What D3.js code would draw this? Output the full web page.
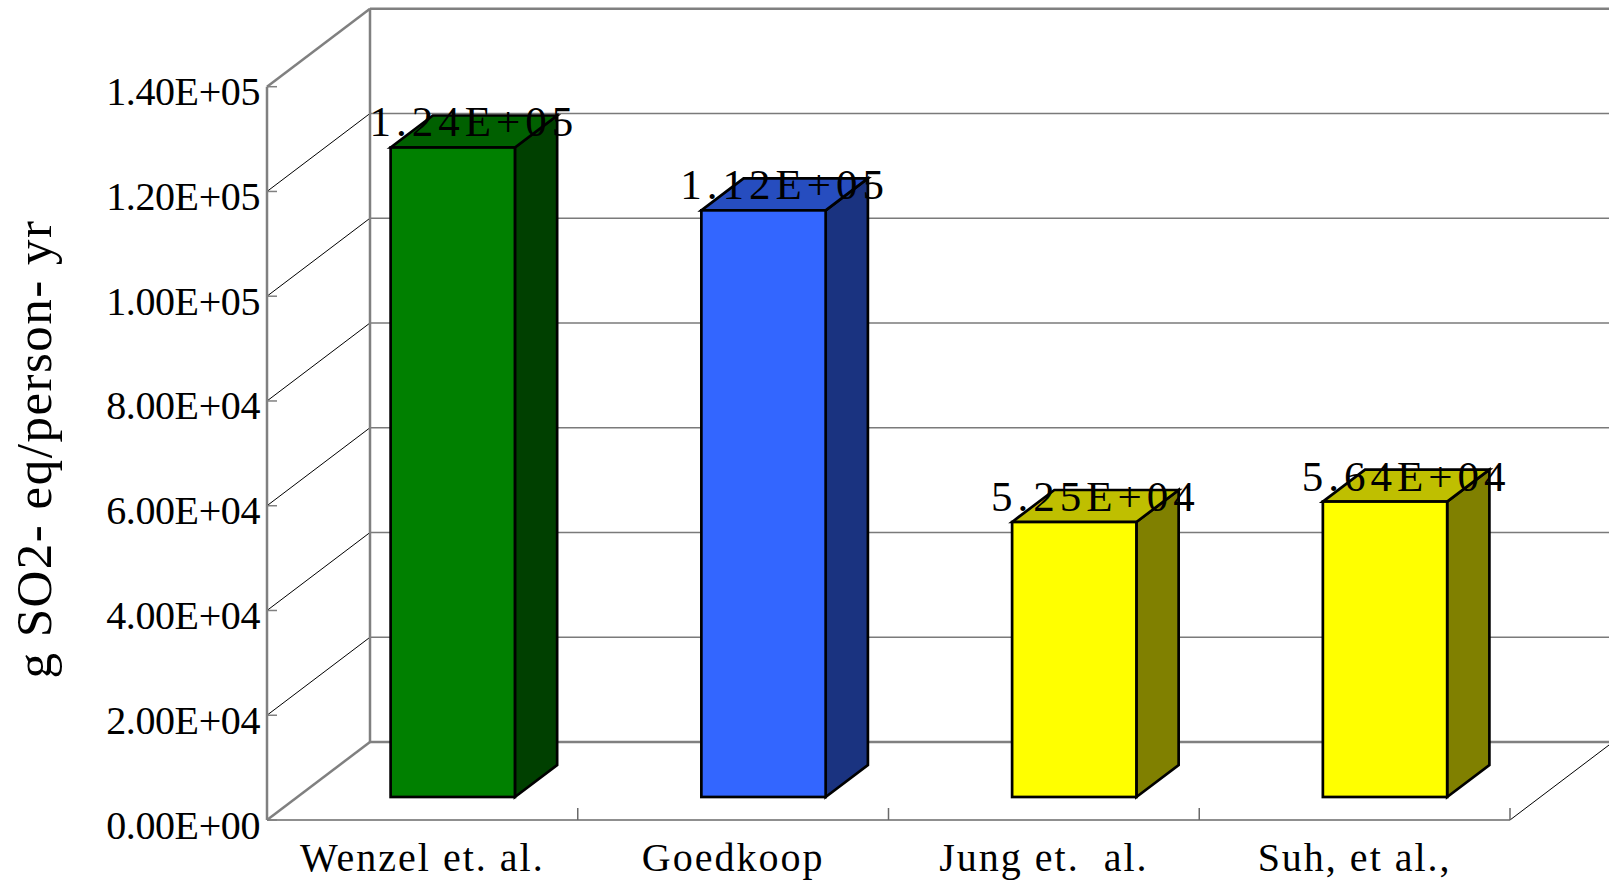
<!DOCTYPE html>
<html>
<head>
<meta charset="utf-8">
<script src="https://cdn.jsdelivr.net/npm/d3@7"></script>
<style>
  html, body { margin: 0; padding: 0; background: #ffffff; }
  svg { display: block; }
  text { font-family: "Liberation Serif", "Times New Roman", serif; fill: #000; }
</style>
</head>
<body>
<svg id="chart" width="1609" height="884"></svg>
<script>
// Study categories and acidification results (g SO2-eq / person-yr)
const categories = ["Wenzel et. al.", "Goedkoop", "Jung et.  al.", "Suh, et al.,"];
const values = [124000, 112000, 52500, 56400];
const barColors = ["#008000", "#3366FF", "#FFFF00", "#FFFF00"];
const yTicks = [0, 20000, 40000, 60000, 80000, 100000, 120000, 140000];
const yTitle = "g SO2- eq/person- yr";

(function draw() {
  const svg = d3.select("#chart");

  // Front plane of the plot box and the depth offset of the back wall
  const plotLeft = 267, plotRight = 1510, plotBottom = 820, plotTop = 86.7;
  const depthX = 103, depthY = 78;
  // bars sit between these fractions of the depth
  const barFront = 0.295, barBack = 0.705;

  const x = d3.scaleBand()
    .domain(categories)
    .range([plotLeft, plotRight])
    .paddingInner(0.6)
    .paddingOuter(0.3);

  const y = d3.scaleLinear()
    .domain([0, 140000])
    .range([plotBottom, plotTop]);

  // category slot edges for ticks
  const step = x.step();
  const slotEdges = d3.range(categories.length + 1).map(i => plotLeft + i * step);

  const fmt = v => {
    if (v === 0) return "0.00E+00";
    const e = Math.floor(Math.log10(Math.abs(v)));
    const m = v / Math.pow(10, e);
    const sign = e < 0 ? "-" : "+";
    return m.toFixed(2) + "E" + sign + String(Math.abs(e)).padStart(2, "0");
  };

  const shade = (c, k) => {
    const r = d3.rgb(c);
    return d3.rgb(r.r * k, r.g * k, r.b * k).formatHex();
  };

  const frameColor = "#808080";
  const bx = plotLeft + depthX, by = -depthY;
  const yMax = yTicks[yTicks.length - 1];

  // back wall gridlines
  const inner = yTicks.slice(1, -1);
  svg.append("g").selectAll("line").data(inner).join("line")
    .attr("x1", bx).attr("x2", 1620)
    .attr("y1", d => y(d) + by).attr("y2", d => y(d) + by)
    .attr("stroke", "#7a7a7a").attr("stroke-width", 1.5);

  // side wall gridlines (diagonals)
  svg.append("g").selectAll("line").data(inner).join("line")
    .attr("x1", plotLeft).attr("y1", d => y(d))
    .attr("x2", bx).attr("y2", d => y(d) + by)
    .attr("stroke", "#000").attr("stroke-width", 1);

  // frame
  const frame = svg.append("g").attr("fill", "none").attr("stroke", frameColor).attr("stroke-width", 2.5);
  frame.append("line").attr("x1", plotLeft).attr("y1", y(0)).attr("x2", plotLeft).attr("y2", y(yMax));
  frame.append("line").attr("x1", plotLeft).attr("y1", y(yMax)).attr("x2", bx).attr("y2", y(yMax) + by);
  frame.append("line").attr("x1", bx).attr("y1", y(yMax) + by).attr("x2", bx).attr("y2", y(0) + by);
  frame.append("line").attr("x1", bx).attr("y1", y(yMax) + by).attr("x2", 1620).attr("y2", y(yMax) + by);
  frame.append("line").attr("x1", bx).attr("y1", y(0) + by).attr("x2", 1620).attr("y2", y(0) + by);
  frame.append("line").attr("x1", plotLeft).attr("y1", y(0)).attr("x2", bx).attr("y2", y(0) + by);

  // floor front edge and right diagonal
  svg.append("line").attr("x1", plotLeft).attr("x2", plotRight).attr("y1", y(0)).attr("y2", y(0))
    .attr("stroke", "#6a6a6a").attr("stroke-width", 1.5);
  svg.append("line").attr("x1", plotRight).attr("y1", y(0)).attr("x2", plotRight + depthX).attr("y2", y(0) + by)
    .attr("stroke", "#000").attr("stroke-width", 1);

  // category ticks
  svg.append("g").selectAll("line").data(slotEdges.slice(1)).join("line")
    .attr("x1", d => d).attr("x2", d => d)
    .attr("y1", y(0)).attr("y2", y(0) - 12)
    .attr("stroke", "#6a6a6a").attr("stroke-width", 1.5);

  // value ticks
  svg.append("g").selectAll("line").data(yTicks).join("line")
    .attr("x1", plotLeft).attr("x2", plotLeft + 10)
    .attr("y1", d => y(d)).attr("y2", d => y(d))
    .attr("stroke", frameColor).attr("stroke-width", 1.5);

  // value tick labels
  svg.append("g").selectAll("text").data(yTicks).join("text")
    .attr("x", 260).attr("y", d => y(d) + 18.5)
    .attr("text-anchor", "end")
    .attr("font-size", 40)
    .attr("letter-spacing", "-0.4px")
    .text(fmt);

  // bars
  const fx = barFront * depthX, fy = barFront * depthY;
  const dX = (barBack - barFront) * depthX, dY = (barBack - barFront) * depthY;
  const bars = svg.append("g").attr("stroke", "#000").attr("stroke-width", 2.7).attr("stroke-linejoin", "miter");
  categories.forEach((c, i) => {
    const x0 = x(c) + fx, x1 = x0 + x.bandwidth();
    const y0 = y(0) - fy, y1 = y(values[i]) - fy;
    const g = bars.append("g");
    // side face
    g.append("path")
      .attr("d", `M${x1},${y0}L${x1 + dX},${y0 - dY}L${x1 + dX},${y1 - dY}L${x1},${y1}Z`)
      .attr("fill", shade(barColors[i], 0.5));
    // top face
    g.append("path")
      .attr("d", `M${x0},${y1}L${x0 + dX},${y1 - dY}L${x1 + dX},${y1 - dY}L${x1},${y1}Z`)
      .attr("fill", shade(barColors[i], 0.75));
    // front face
    g.append("rect")
      .attr("x", x0).attr("y", y1)
      .attr("width", x1 - x0).attr("height", y0 - y1)
      .attr("fill", barColors[i]);
  });

  // value labels
  svg.append("g").selectAll("text").data(categories).join("text")
    .attr("x", c => x(c) + fx + x.bandwidth() / 2 + dX / 2)
    .attr("y", (c, i) => y(values[i]) - fy - 11)
    .attr("text-anchor", "middle")
    .attr("font-size", 43)
    .attr("letter-spacing", "5px")
    .text((c, i) => fmt(values[i]));

  // category labels
  svg.append("g").selectAll("text").data(categories).join("text")
    .attr("x", c => x(c) + x.bandwidth() / 2)
    .attr("y", 871)
    .attr("text-anchor", "middle")
    .attr("font-size", 40)
    .attr("letter-spacing", "2px")
    .style("white-space", "pre")
    .text(c => c);

  // axis title
  svg.append("text")
    .attr("transform", "translate(51,449) rotate(-90)")
    .attr("text-anchor", "middle")
    .attr("font-size", 51)
    .attr("letter-spacing", "1.5px")
    .text(yTitle);
})();
</script>
</body>
</html>
